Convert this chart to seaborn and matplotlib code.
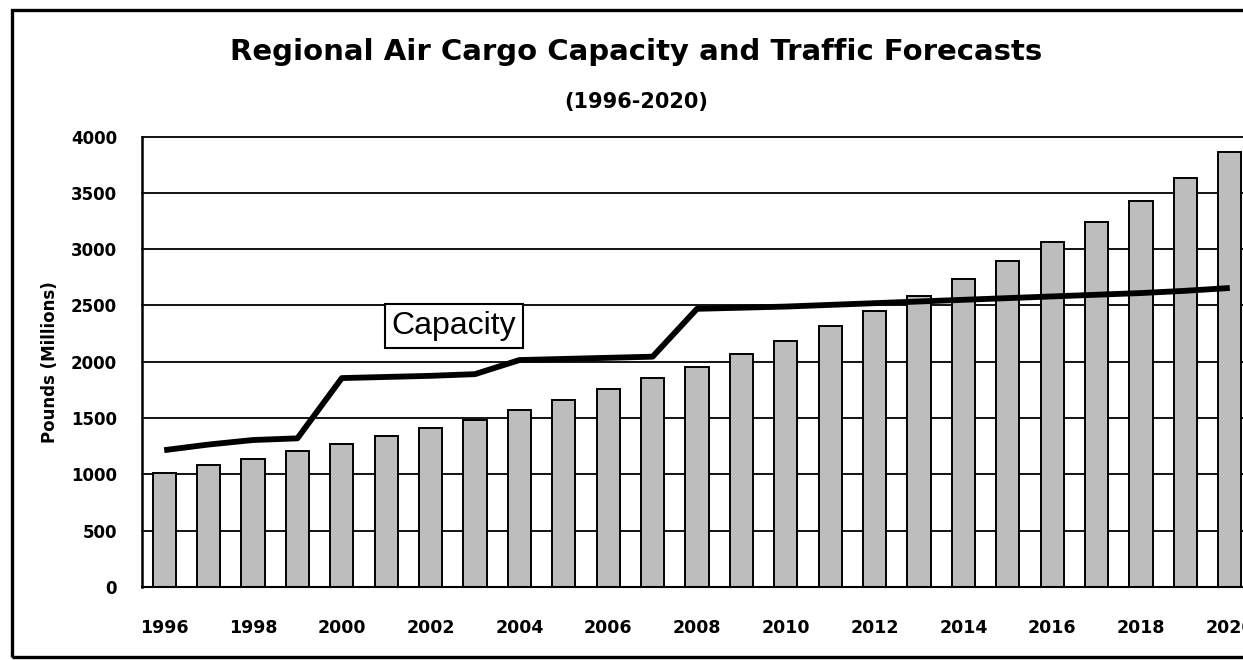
import numpy as np
import pandas as pd
import matplotlib
matplotlib.use("Agg")
import matplotlib.pyplot as plt
from matplotlib.patches import Rectangle
import seaborn as sns

# Forecast data (millions of pounds)
years = [str(y) for y in range(1996, 2021)]
traffic = [1015, 1080, 1140, 1205, 1270, 1340, 1410, 1485, 1575, 1660,
           1755, 1855, 1955, 2070, 2185, 2320, 2450, 2580, 2735, 2895,
           3065, 3245, 3430, 3635, 3860]
capacity = [1215, 1265, 1305, 1320, 1855, 1865, 1875, 1890, 2015, 2025,
            2035, 2045, 2470, 2480, 2490, 2505, 2520, 2535, 2550, 2565,
            2580, 2595, 2610, 2630, 2655]
y_ticks = [0, 500, 1000, 1500, 2000, 2500, 3000, 3500, 4000]

title = "Regional Air Cargo Capacity and Traffic Forecasts"
subtitle = "(1996-2020)"
y_label = "Pounds (Millions)"
line_label = "Capacity"

sns.set_style("white")
plt.rcParams["font.family"] = ["DejaVu Sans"]
plt.rcParams["text.color"] = "black"
plt.rcParams["xtick.color"] = "black"
plt.rcParams["ytick.color"] = "black"
plt.rcParams["axes.labelcolor"] = "black"

W, H = 1243, 660
fig = plt.figure(figsize=(W / 100, H / 100), dpi=100)
fig.patch.set_facecolor("white")

ax = fig.add_axes([142 / W, 1 - 587 / H, (1252 - 142) / W, (587 - 136.5) / H])

df = pd.DataFrame({"year": years, "traffic": traffic})
sns.barplot(data=df, x="year", y="traffic", ax=ax, color="#bdbdbd",
            saturation=1, width=0.52, edgecolor="black", linewidth=1.4,
            zorder=2)

pos = np.arange(len(years))
sns.lineplot(x=pos, y=capacity, ax=ax, color="black", linewidth=4.2,
             zorder=4, solid_capstyle="butt")

ax.set_xlim(-0.5, len(years) - 0.5)
ax.set_ylim(0, 4000)
ax.set_yticks(y_ticks)
ax.set_yticklabels([str(v) for v in y_ticks])
ax.set_xticks(pos)
ax.set_xticklabels([y if i % 2 == 0 else "" for i, y in enumerate(years)])

ax.set_axisbelow(True)
ax.yaxis.grid(True, color="black", linewidth=1.3)
ax.xaxis.grid(False)
for gl in ax.yaxis.get_gridlines():
    gl.set_clip_on(False)

for side in ["top", "right"]:
    ax.spines[side].set_visible(False)
ax.spines["left"].set_color("black")
ax.spines["left"].set_linewidth(1.8)
ax.spines["bottom"].set_color("black")
ax.spines["bottom"].set_linewidth(1.5)

ax.tick_params(axis="y", direction="out", length=10, width=1.3,
               color="black", labelcolor="black", pad=8, labelsize=12)
ax.tick_params(axis="x", direction="out", length=10, width=1.3,
               color="black", labelcolor="black", pad=13, labelsize=12.5)
for lbl in ax.get_xticklabels() + ax.get_yticklabels():
    lbl.set_fontweight("bold")

ax.set_xlabel("")
ax.set_ylabel("")

# Label for the capacity line
ax.text(6.53, 2315, line_label, ha="center", va="center", color="black",
        fontsize=23, family=["Liberation Sans", "DejaVu Sans"], zorder=5,
        bbox=dict(boxstyle="square,pad=0.22", fc="white", ec="black",
                  lw=1.5))

fig.text(50 / W, 1 - 362 / H, y_label, rotation=90, ha="center",
         va="center", fontsize=12, fontweight="bold", color="black")
fig.text(636 / W, 1 - 52 / H, title, ha="center", va="center",
         fontsize=21, fontweight="bold", color="black")
fig.text(636 / W, 1 - 102 / H, subtitle, ha="center", va="center",
         fontsize=15, fontweight="bold", color="black")

# Outer frame around the chart
fig.patches.append(Rectangle((12 / W, 1 - 657 / H), 1.2, (657 - 10) / H,
                             transform=fig.transFigure, fill=False,
                             edgecolor="black", linewidth=2.4))

fig.savefig("out.png", dpi=100, facecolor="white")
